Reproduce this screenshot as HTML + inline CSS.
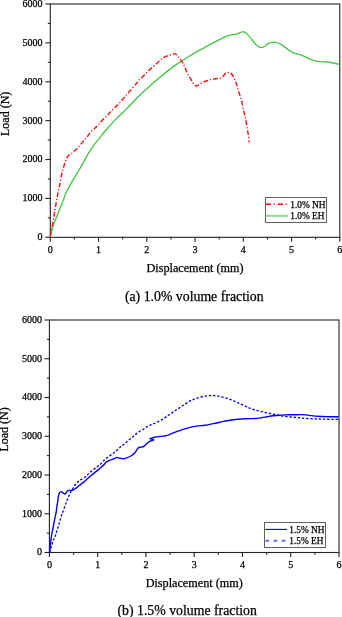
<!DOCTYPE html>
<html><head><meta charset="utf-8"><style>
html,body{margin:0;padding:0;background:#fff;}
body{width:342px;height:617px;overflow:hidden;position:relative;}
svg{position:absolute;left:0;top:0;font-family:"Liberation Serif",serif;will-change:transform;}
text{stroke:#000;stroke-width:0.25px;}
</style></head><body>
<svg width="342" height="617" viewBox="0 0 342 617" fill="#000">
<rect x="50.3" y="4.0" width="289.50" height="233.30" fill="none" stroke="#222" stroke-width="1.1"/>
<line x1="50.30" y1="237.3" x2="50.30" y2="241.70000000000002" stroke="#222" stroke-width="1.1"/>
<line x1="74.42" y1="237.3" x2="74.42" y2="239.60000000000002" stroke="#222" stroke-width="1.1"/>
<line x1="98.55" y1="237.3" x2="98.55" y2="241.70000000000002" stroke="#222" stroke-width="1.1"/>
<line x1="122.67" y1="237.3" x2="122.67" y2="239.60000000000002" stroke="#222" stroke-width="1.1"/>
<line x1="146.80" y1="237.3" x2="146.80" y2="241.70000000000002" stroke="#222" stroke-width="1.1"/>
<line x1="170.93" y1="237.3" x2="170.93" y2="239.60000000000002" stroke="#222" stroke-width="1.1"/>
<line x1="195.05" y1="237.3" x2="195.05" y2="241.70000000000002" stroke="#222" stroke-width="1.1"/>
<line x1="219.18" y1="237.3" x2="219.18" y2="239.60000000000002" stroke="#222" stroke-width="1.1"/>
<line x1="243.30" y1="237.3" x2="243.30" y2="241.70000000000002" stroke="#222" stroke-width="1.1"/>
<line x1="267.43" y1="237.3" x2="267.43" y2="239.60000000000002" stroke="#222" stroke-width="1.1"/>
<line x1="291.55" y1="237.3" x2="291.55" y2="241.70000000000002" stroke="#222" stroke-width="1.1"/>
<line x1="315.68" y1="237.3" x2="315.68" y2="239.60000000000002" stroke="#222" stroke-width="1.1"/>
<line x1="339.80" y1="237.3" x2="339.80" y2="241.70000000000002" stroke="#222" stroke-width="1.1"/>
<text x="50.30" y="253.0" font-size="10" text-anchor="middle">0</text>
<text x="98.55" y="253.0" font-size="10" text-anchor="middle">1</text>
<text x="146.80" y="253.0" font-size="10" text-anchor="middle">2</text>
<text x="195.05" y="253.0" font-size="10" text-anchor="middle">3</text>
<text x="243.30" y="253.0" font-size="10" text-anchor="middle">4</text>
<text x="291.55" y="253.0" font-size="10" text-anchor="middle">5</text>
<text x="339.80" y="253.0" font-size="10" text-anchor="middle">6</text>
<line x1="45.4" y1="237.30" x2="50.3" y2="237.30" stroke="#222" stroke-width="1.1"/>
<line x1="47.8" y1="217.86" x2="50.3" y2="217.86" stroke="#222" stroke-width="1.1"/>
<line x1="45.4" y1="198.42" x2="50.3" y2="198.42" stroke="#222" stroke-width="1.1"/>
<line x1="47.8" y1="178.97" x2="50.3" y2="178.97" stroke="#222" stroke-width="1.1"/>
<line x1="45.4" y1="159.53" x2="50.3" y2="159.53" stroke="#222" stroke-width="1.1"/>
<line x1="47.8" y1="140.09" x2="50.3" y2="140.09" stroke="#222" stroke-width="1.1"/>
<line x1="45.4" y1="120.65" x2="50.3" y2="120.65" stroke="#222" stroke-width="1.1"/>
<line x1="47.8" y1="101.21" x2="50.3" y2="101.21" stroke="#222" stroke-width="1.1"/>
<line x1="45.4" y1="81.77" x2="50.3" y2="81.77" stroke="#222" stroke-width="1.1"/>
<line x1="47.8" y1="62.32" x2="50.3" y2="62.32" stroke="#222" stroke-width="1.1"/>
<line x1="45.4" y1="42.88" x2="50.3" y2="42.88" stroke="#222" stroke-width="1.1"/>
<line x1="47.8" y1="23.44" x2="50.3" y2="23.44" stroke="#222" stroke-width="1.1"/>
<line x1="45.4" y1="4.00" x2="50.3" y2="4.00" stroke="#222" stroke-width="1.1"/>
<text x="42.4" y="240.20" font-size="10" text-anchor="end">0</text>
<text x="42.4" y="201.32" font-size="10" text-anchor="end">1000</text>
<text x="42.4" y="162.43" font-size="10" text-anchor="end">2000</text>
<text x="42.4" y="123.55" font-size="10" text-anchor="end">3000</text>
<text x="42.4" y="84.67" font-size="10" text-anchor="end">4000</text>
<text x="42.4" y="45.78" font-size="10" text-anchor="end">5000</text>
<text x="42.4" y="6.90" font-size="10" text-anchor="end">6000</text>
<text x="195.05" y="271.8" font-size="12.2" text-anchor="middle">Displacement (mm)</text>
<text transform="translate(9.1,113.85) rotate(-90)" x="0" y="0" font-size="12" text-anchor="middle">Load (N)</text>
<text x="194.25" y="301.2" font-size="13.8" text-anchor="middle">(a) 1.0% volume fraction</text>
<rect x="49.4" y="320.0" width="289.60" height="232.50" fill="none" stroke="#222" stroke-width="1.1"/>
<line x1="49.40" y1="552.5" x2="49.40" y2="556.9" stroke="#222" stroke-width="1.1"/>
<line x1="73.53" y1="552.5" x2="73.53" y2="554.8" stroke="#222" stroke-width="1.1"/>
<line x1="97.67" y1="552.5" x2="97.67" y2="556.9" stroke="#222" stroke-width="1.1"/>
<line x1="121.80" y1="552.5" x2="121.80" y2="554.8" stroke="#222" stroke-width="1.1"/>
<line x1="145.93" y1="552.5" x2="145.93" y2="556.9" stroke="#222" stroke-width="1.1"/>
<line x1="170.07" y1="552.5" x2="170.07" y2="554.8" stroke="#222" stroke-width="1.1"/>
<line x1="194.20" y1="552.5" x2="194.20" y2="556.9" stroke="#222" stroke-width="1.1"/>
<line x1="218.33" y1="552.5" x2="218.33" y2="554.8" stroke="#222" stroke-width="1.1"/>
<line x1="242.47" y1="552.5" x2="242.47" y2="556.9" stroke="#222" stroke-width="1.1"/>
<line x1="266.60" y1="552.5" x2="266.60" y2="554.8" stroke="#222" stroke-width="1.1"/>
<line x1="290.73" y1="552.5" x2="290.73" y2="556.9" stroke="#222" stroke-width="1.1"/>
<line x1="314.87" y1="552.5" x2="314.87" y2="554.8" stroke="#222" stroke-width="1.1"/>
<line x1="339.00" y1="552.5" x2="339.00" y2="556.9" stroke="#222" stroke-width="1.1"/>
<text x="49.40" y="568.1" font-size="10" text-anchor="middle">0</text>
<text x="97.67" y="568.1" font-size="10" text-anchor="middle">1</text>
<text x="145.93" y="568.1" font-size="10" text-anchor="middle">2</text>
<text x="194.20" y="568.1" font-size="10" text-anchor="middle">3</text>
<text x="242.47" y="568.1" font-size="10" text-anchor="middle">4</text>
<text x="290.73" y="568.1" font-size="10" text-anchor="middle">5</text>
<text x="339.00" y="568.1" font-size="10" text-anchor="middle">6</text>
<line x1="44.5" y1="552.50" x2="49.4" y2="552.50" stroke="#222" stroke-width="1.1"/>
<line x1="46.9" y1="533.12" x2="49.4" y2="533.12" stroke="#222" stroke-width="1.1"/>
<line x1="44.5" y1="513.75" x2="49.4" y2="513.75" stroke="#222" stroke-width="1.1"/>
<line x1="46.9" y1="494.38" x2="49.4" y2="494.38" stroke="#222" stroke-width="1.1"/>
<line x1="44.5" y1="475.00" x2="49.4" y2="475.00" stroke="#222" stroke-width="1.1"/>
<line x1="46.9" y1="455.62" x2="49.4" y2="455.62" stroke="#222" stroke-width="1.1"/>
<line x1="44.5" y1="436.25" x2="49.4" y2="436.25" stroke="#222" stroke-width="1.1"/>
<line x1="46.9" y1="416.88" x2="49.4" y2="416.88" stroke="#222" stroke-width="1.1"/>
<line x1="44.5" y1="397.50" x2="49.4" y2="397.50" stroke="#222" stroke-width="1.1"/>
<line x1="46.9" y1="378.12" x2="49.4" y2="378.12" stroke="#222" stroke-width="1.1"/>
<line x1="44.5" y1="358.75" x2="49.4" y2="358.75" stroke="#222" stroke-width="1.1"/>
<line x1="46.9" y1="339.38" x2="49.4" y2="339.38" stroke="#222" stroke-width="1.1"/>
<line x1="44.5" y1="320.00" x2="49.4" y2="320.00" stroke="#222" stroke-width="1.1"/>
<text x="42.0" y="555.40" font-size="10" text-anchor="end">0</text>
<text x="42.0" y="516.65" font-size="10" text-anchor="end">1000</text>
<text x="42.0" y="477.90" font-size="10" text-anchor="end">2000</text>
<text x="42.0" y="439.15" font-size="10" text-anchor="end">3000</text>
<text x="42.0" y="400.40" font-size="10" text-anchor="end">4000</text>
<text x="42.0" y="361.65" font-size="10" text-anchor="end">5000</text>
<text x="42.0" y="322.90" font-size="10" text-anchor="end">6000</text>
<text x="194.20" y="587.2" font-size="12.2" text-anchor="middle">Displacement (mm)</text>
<text transform="translate(8.3,429.45) rotate(-90)" x="0" y="0" font-size="12" text-anchor="middle">Load (N)</text>
<text x="187.20" y="615.4" font-size="13.8" text-anchor="middle">(b) 1.5% volume fraction</text>
<path d="M50.30,236.30 C50.60,235.18 51.52,231.68 52.10,229.60 C52.68,227.52 53.12,225.73 53.80,223.80 C54.48,221.87 55.42,219.95 56.20,218.00 C56.98,216.05 57.72,214.05 58.50,212.10 C59.28,210.15 60.12,208.22 60.90,206.30 C61.68,204.38 62.38,202.77 63.20,200.60 C64.02,198.43 64.97,195.30 65.80,193.30 C66.63,191.30 67.22,190.45 68.20,188.60 C69.18,186.75 70.53,184.25 71.70,182.20 C72.87,180.15 74.03,178.25 75.20,176.30 C76.37,174.35 77.53,172.45 78.70,170.50 C79.87,168.55 80.97,166.78 82.20,164.60 C83.43,162.42 84.87,159.60 86.10,157.40 C87.33,155.20 88.40,153.32 89.60,151.40 C90.80,149.48 91.73,148.03 93.30,145.90 C94.87,143.77 96.88,141.25 99.00,138.60 C101.12,135.95 103.58,132.83 106.00,130.00 C108.42,127.17 110.93,124.30 113.50,121.60 C116.07,118.90 119.23,115.92 121.40,113.80 C123.57,111.68 124.40,111.03 126.50,108.90 C128.60,106.77 131.52,103.57 134.00,101.00 C136.48,98.43 139.40,95.42 141.40,93.50 C143.40,91.58 143.95,91.32 146.00,89.50 C148.05,87.68 151.13,84.85 153.70,82.60 C156.27,80.35 158.68,78.25 161.40,76.00 C164.12,73.75 167.23,71.20 170.00,69.10 C172.77,67.00 175.33,65.20 178.00,63.40 C180.67,61.60 183.33,59.98 186.00,58.30 C188.67,56.62 191.00,55.05 194.00,53.30 C197.00,51.55 200.67,49.62 204.00,47.80 C207.33,45.98 211.40,43.77 214.00,42.40 C216.60,41.03 217.73,40.57 219.60,39.60 C221.47,38.63 223.33,37.38 225.20,36.60 C227.07,35.82 228.92,35.32 230.80,34.90 C232.68,34.48 235.08,34.42 236.50,34.10 C237.92,33.78 238.37,33.37 239.30,33.00 C240.23,32.63 241.25,32.07 242.10,31.90 C242.95,31.73 243.75,31.82 244.40,32.00 C245.05,32.18 245.33,32.43 246.00,33.00 C246.67,33.57 247.42,34.30 248.40,35.40 C249.38,36.50 250.73,38.13 251.90,39.60 C253.07,41.07 254.23,43.00 255.40,44.20 C256.57,45.40 257.82,46.25 258.90,46.80 C259.98,47.35 260.97,47.55 261.90,47.50 C262.83,47.45 263.53,47.10 264.50,46.50 C265.47,45.90 266.43,44.58 267.70,43.90 C268.97,43.22 270.78,42.67 272.10,42.40 C273.42,42.13 274.43,42.15 275.60,42.30 C276.77,42.45 277.93,42.78 279.10,43.30 C280.27,43.82 281.43,44.60 282.60,45.40 C283.77,46.20 284.87,47.20 286.10,48.10 C287.33,49.00 288.52,49.93 290.00,50.80 C291.48,51.67 293.33,52.65 295.00,53.30 C296.67,53.95 298.33,54.13 300.00,54.70 C301.67,55.27 303.33,55.95 305.00,56.70 C306.67,57.45 308.33,58.52 310.00,59.20 C311.67,59.88 313.33,60.38 315.00,60.80 C316.67,61.22 318.05,61.50 320.00,61.70 C321.95,61.90 324.48,61.78 326.70,62.00 C328.92,62.22 331.22,62.63 333.30,63.00 C335.38,63.37 338.22,64.00 339.20,64.20" fill="none" stroke="#45c845" stroke-width="1.35"/>
<path d="M50.30,236.50 C50.50,235.35 51.00,232.30 51.50,229.60 C52.00,226.90 52.82,223.02 53.30,220.30 C53.78,217.58 54.02,215.63 54.40,213.30 C54.78,210.97 55.20,208.65 55.60,206.30 C56.00,203.95 56.42,201.35 56.80,199.20 C57.18,197.05 57.52,195.35 57.90,193.40 C58.28,191.45 58.75,189.15 59.10,187.50 C59.45,185.85 59.55,185.85 60.00,183.50 C60.45,181.15 61.22,176.07 61.80,173.40 C62.38,170.73 62.92,169.45 63.50,167.50 C64.08,165.55 64.72,163.35 65.30,161.70 C65.88,160.05 66.32,158.77 67.00,157.60 C67.68,156.43 68.62,155.38 69.40,154.70 C70.18,154.02 70.93,154.08 71.70,153.50 C72.47,152.92 73.08,152.03 74.00,151.20 C74.92,150.37 76.18,149.55 77.20,148.50 C78.22,147.45 79.02,146.18 80.10,144.90 C81.18,143.62 82.55,142.12 83.70,140.80 C84.85,139.48 85.87,138.42 87.00,137.00 C88.13,135.58 89.17,133.80 90.50,132.30 C91.83,130.80 93.67,129.30 95.00,128.00 C96.33,126.70 97.33,125.77 98.50,124.50 C99.67,123.23 100.63,121.77 102.00,120.40 C103.37,119.03 105.33,117.67 106.70,116.30 C108.07,114.93 108.93,113.57 110.20,112.20 C111.47,110.83 112.93,109.47 114.30,108.10 C115.67,106.73 116.93,105.55 118.40,104.00 C119.87,102.45 121.63,100.45 123.10,98.80 C124.57,97.15 125.93,95.57 127.20,94.10 C128.47,92.63 129.20,91.73 130.70,90.00 C132.20,88.27 134.70,85.43 136.20,83.70 C137.70,81.97 138.33,81.07 139.70,79.60 C141.07,78.13 142.85,76.47 144.40,74.90 C145.95,73.33 147.45,71.67 149.00,70.20 C150.55,68.73 152.13,67.47 153.70,66.10 C155.27,64.73 156.83,63.37 158.40,62.00 C159.97,60.63 161.73,58.87 163.10,57.90 C164.47,56.93 165.43,56.68 166.60,56.20 C167.77,55.72 168.80,55.43 170.10,55.00 C171.40,54.57 173.40,53.72 174.40,53.60 C175.40,53.48 175.55,53.87 176.10,54.30 C176.65,54.73 177.17,55.57 177.70,56.20 C178.23,56.83 178.63,57.28 179.30,58.10 C179.97,58.92 180.98,60.05 181.70,61.10 C182.42,62.15 183.05,63.32 183.60,64.40 C184.15,65.48 184.43,66.25 185.00,67.60 C185.57,68.95 186.33,71.05 187.00,72.50 C187.67,73.95 188.42,75.28 189.00,76.30 C189.58,77.32 189.95,77.68 190.50,78.60 C191.05,79.52 191.75,80.90 192.30,81.80 C192.85,82.70 193.20,83.30 193.80,84.00 C194.40,84.70 195.12,85.83 195.90,86.00 C196.68,86.17 197.40,85.58 198.50,85.00 C199.60,84.42 201.12,83.20 202.50,82.50 C203.88,81.80 205.33,81.32 206.80,80.80 C208.27,80.28 209.83,79.73 211.30,79.40 C212.77,79.07 214.13,79.00 215.60,78.80 C217.07,78.60 218.98,78.50 220.10,78.20 C221.22,77.90 221.72,77.45 222.30,77.00 C222.88,76.55 223.10,76.08 223.60,75.50 C224.10,74.92 224.72,74.02 225.30,73.50 C225.88,72.98 226.42,72.52 227.10,72.40 C227.78,72.28 228.67,72.57 229.40,72.80 C230.13,73.03 230.77,73.02 231.50,73.80 C232.23,74.58 233.07,76.05 233.80,77.50 C234.53,78.95 235.32,80.95 235.90,82.50 C236.48,84.05 236.87,85.33 237.30,86.80 C237.73,88.27 237.97,89.63 238.50,91.30 C239.03,92.97 239.93,94.95 240.50,96.80 C241.07,98.65 241.42,100.25 241.90,102.40 C242.38,104.55 242.90,107.50 243.40,109.70 C243.90,111.90 244.42,113.40 244.90,115.60 C245.38,117.80 245.87,120.47 246.30,122.90 C246.73,125.33 247.13,128.02 247.50,130.20 C247.87,132.38 248.22,133.95 248.50,136.00 C248.78,138.05 249.08,141.42 249.20,142.50" fill="none" stroke="#ff0d0d" stroke-width="1.4" stroke-dasharray="4.8 2 1.2 2"/>
<path d="M49.60,552.50 C49.82,551.75 50.50,549.37 50.90,548.00 C51.30,546.63 51.63,545.52 52.00,544.30 C52.37,543.08 52.62,541.88 53.10,540.70 C53.58,539.52 54.42,538.42 54.90,537.20 C55.38,535.98 55.57,534.77 56.00,533.40 C56.43,532.03 57.02,530.50 57.50,529.00 C57.98,527.50 58.48,525.83 58.90,524.40 C59.32,522.97 59.58,521.83 60.00,520.40 C60.42,518.97 60.90,517.28 61.40,515.80 C61.90,514.32 62.38,513.20 63.00,511.50 C63.62,509.80 64.52,507.17 65.10,505.60 C65.68,504.03 66.02,503.37 66.50,502.10 C66.98,500.83 67.47,499.32 68.00,498.00 C68.53,496.68 69.12,495.47 69.70,494.20 C70.28,492.93 70.87,491.52 71.50,490.40 C72.13,489.28 72.92,488.40 73.50,487.50 C74.08,486.60 74.33,485.87 75.00,485.00 C75.67,484.13 76.75,483.03 77.50,482.30 C78.25,481.57 78.78,481.13 79.50,480.60 C80.22,480.07 80.92,479.67 81.80,479.10 C82.68,478.53 83.92,477.85 84.80,477.20 C85.68,476.55 86.37,475.88 87.10,475.20 C87.83,474.52 88.32,473.90 89.20,473.10 C90.08,472.30 91.38,471.23 92.40,470.40 C93.42,469.57 94.28,468.88 95.30,468.10 C96.32,467.32 97.62,466.38 98.50,465.70 C99.38,465.02 99.92,464.68 100.60,464.00 C101.28,463.32 101.82,462.38 102.60,461.60 C103.38,460.82 104.52,459.97 105.30,459.30 C106.08,458.63 106.52,458.22 107.30,457.60 C108.08,456.98 109.13,456.23 110.00,455.60 C110.87,454.97 111.75,454.37 112.50,453.80 C113.25,453.23 113.82,452.77 114.50,452.20 C115.18,451.63 115.72,451.17 116.60,450.40 C117.48,449.63 118.72,448.50 119.80,447.60 C120.88,446.70 122.07,445.87 123.10,445.00 C124.13,444.13 125.03,443.23 126.00,442.40 C126.97,441.57 127.90,440.85 128.90,440.00 C129.90,439.15 131.07,438.10 132.00,437.30 C132.93,436.50 133.35,436.10 134.50,435.20 C135.65,434.30 137.35,432.93 138.90,431.90 C140.45,430.87 142.37,429.92 143.80,429.00 C145.23,428.08 146.27,427.12 147.50,426.40 C148.73,425.68 149.90,425.27 151.20,424.70 C152.50,424.13 153.93,423.62 155.30,423.00 C156.67,422.38 158.03,421.70 159.40,421.00 C160.77,420.30 162.15,419.67 163.50,418.80 C164.85,417.93 166.15,416.75 167.50,415.80 C168.85,414.85 170.23,414.02 171.60,413.10 C172.97,412.18 174.33,411.22 175.70,410.30 C177.07,409.38 178.43,408.50 179.80,407.60 C181.17,406.70 182.43,405.87 183.90,404.90 C185.37,403.93 187.17,402.65 188.60,401.80 C190.03,400.95 191.25,400.35 192.50,399.80 C193.75,399.25 194.63,399.00 196.10,398.50 C197.57,398.00 199.55,397.23 201.30,396.80 C203.05,396.37 204.85,396.12 206.60,395.90 C208.35,395.68 210.05,395.50 211.80,395.50 C213.55,395.50 215.33,395.63 217.10,395.90 C218.87,396.17 220.65,396.67 222.40,397.10 C224.15,397.53 225.85,397.95 227.60,398.50 C229.35,399.05 231.30,399.77 232.90,400.40 C234.50,401.03 235.77,401.63 237.20,402.30 C238.63,402.97 240.05,403.72 241.50,404.40 C242.95,405.08 244.43,405.75 245.90,406.40 C247.37,407.05 248.65,407.68 250.30,408.30 C251.95,408.92 253.90,409.55 255.80,410.10 C257.70,410.65 259.75,411.12 261.70,411.60 C263.65,412.08 265.55,412.57 267.50,413.00 C269.45,413.43 271.45,413.78 273.40,414.20 C275.35,414.62 277.25,415.13 279.20,415.50 C281.15,415.87 283.15,416.15 285.10,416.40 C287.05,416.65 288.95,416.82 290.90,417.00 C292.85,417.18 295.20,417.33 296.80,417.50 C298.40,417.67 298.97,417.83 300.50,418.00 C302.03,418.17 304.17,418.38 306.00,418.50 C307.83,418.62 309.67,418.62 311.50,418.70 C313.33,418.78 315.17,418.93 317.00,419.00 C318.83,419.07 320.67,419.05 322.50,419.10 C324.33,419.15 326.17,419.27 328.00,419.30 C329.83,419.33 331.72,419.30 333.50,419.30 C335.28,419.30 337.83,419.30 338.70,419.30" fill="none" stroke="#0000ff" stroke-width="1.35" stroke-dasharray="2.4 1.8"/>
<path d="M49.50,552.30 C49.68,550.72 50.30,545.35 50.60,542.80 C50.90,540.25 51.00,538.93 51.30,537.00 C51.60,535.07 52.03,533.15 52.40,531.20 C52.77,529.25 53.13,527.25 53.50,525.30 C53.87,523.35 54.23,521.32 54.60,519.50 C54.97,517.68 55.42,515.73 55.70,514.40 C55.98,513.07 56.10,512.82 56.30,511.50 C56.50,510.18 56.65,508.25 56.90,506.50 C57.15,504.75 57.57,502.67 57.80,501.00 C58.03,499.33 58.02,497.87 58.30,496.50 C58.58,495.13 59.00,493.62 59.50,492.80 C60.00,491.98 60.72,491.60 61.30,491.60 C61.88,491.60 62.42,492.40 63.00,492.80 C63.58,493.20 64.27,494.00 64.80,494.00 C65.33,494.00 65.82,493.27 66.20,492.80 C66.58,492.33 66.65,491.60 67.10,491.20 C67.55,490.80 68.22,490.53 68.90,490.40 C69.58,490.27 70.43,490.50 71.20,490.40 C71.97,490.30 72.82,490.12 73.50,489.80 C74.18,489.48 74.75,488.87 75.30,488.50 C75.85,488.13 76.20,488.05 76.80,487.60 C77.40,487.15 78.07,486.48 78.90,485.80 C79.73,485.12 80.82,484.27 81.80,483.50 C82.78,482.73 83.77,482.08 84.80,481.20 C85.83,480.32 86.88,479.20 88.00,478.20 C89.12,477.20 90.33,476.17 91.50,475.20 C92.67,474.23 93.83,473.33 95.00,472.40 C96.17,471.47 97.33,470.57 98.50,469.60 C99.67,468.63 101.02,467.48 102.00,466.60 C102.98,465.72 103.82,464.97 104.40,464.30 C104.98,463.63 105.02,463.08 105.50,462.60 C105.98,462.12 106.63,461.78 107.30,461.40 C107.97,461.02 108.80,460.58 109.50,460.30 C110.20,460.02 110.88,459.88 111.50,459.70 C112.12,459.52 112.38,459.55 113.20,459.20 C114.02,458.85 115.33,457.78 116.40,457.60 C117.47,457.42 118.52,457.92 119.60,458.10 C120.68,458.28 121.82,458.70 122.90,458.70 C123.98,458.70 124.77,458.55 126.10,458.10 C127.43,457.65 129.43,456.88 130.90,456.00 C132.37,455.12 133.70,454.13 134.90,452.80 C136.10,451.47 137.02,448.93 138.10,448.00 C139.18,447.07 140.45,447.47 141.40,447.20 C142.35,446.93 142.65,447.22 143.80,446.40 C144.95,445.58 147.10,443.23 148.30,442.30 C149.50,441.37 150.07,441.22 151.00,440.80 C151.93,440.38 153.42,439.97 153.90,439.80 L149.8,438.6 C150.57,438.38 152.60,437.67 154.40,437.30 C156.20,436.93 158.72,436.67 160.60,436.40 C162.48,436.13 164.33,435.95 165.70,435.70 C167.07,435.45 167.32,435.45 168.80,434.90 C170.28,434.35 172.65,433.17 174.60,432.40 C176.55,431.63 178.55,430.97 180.50,430.30 C182.45,429.63 184.35,428.97 186.30,428.40 C188.25,427.83 190.25,427.32 192.20,426.90 C194.15,426.48 195.87,426.17 198.00,425.90 C200.13,425.63 202.87,425.60 205.00,425.30 C207.13,425.00 208.85,424.48 210.80,424.10 C212.75,423.72 214.75,423.42 216.70,423.00 C218.65,422.58 220.55,422.02 222.50,421.60 C224.45,421.18 226.45,420.82 228.40,420.50 C230.35,420.18 232.25,419.95 234.20,419.70 C236.15,419.45 238.15,419.17 240.10,419.00 C242.05,418.83 244.25,418.77 245.90,418.70 C247.55,418.63 248.35,418.63 250.00,418.60 C251.65,418.57 253.85,418.65 255.80,418.50 C257.75,418.35 259.75,418.00 261.70,417.70 C263.65,417.40 265.55,417.02 267.50,416.70 C269.45,416.38 271.45,416.05 273.40,415.80 C275.35,415.55 277.25,415.35 279.20,415.20 C281.15,415.05 283.15,414.97 285.10,414.90 C287.05,414.83 289.25,414.82 290.90,414.80 C292.55,414.78 293.40,414.83 295.00,414.80 C296.60,414.77 298.67,414.58 300.50,414.60 C302.33,414.62 304.17,414.73 306.00,414.90 C307.83,415.07 309.67,415.37 311.50,415.60 C313.33,415.83 315.17,416.15 317.00,416.30 C318.83,416.45 320.67,416.43 322.50,416.50 C324.33,416.57 326.17,416.65 328.00,416.70 C329.83,416.75 331.72,416.78 333.50,416.80 C335.28,416.82 337.83,416.80 338.70,416.80" fill="none" stroke="#0000ff" stroke-width="1.4" stroke-linejoin="round"/>
<rect x="265.5" y="197.5" width="61" height="25" fill="#fff" stroke="#606060" stroke-width="1"/>
<line x1="265.8" y1="204.3" x2="287" y2="204.3" stroke="#ff0d0d" stroke-width="1.6" stroke-dasharray="5.4 2.6 1.2 2.6"/>
<line x1="265.8" y1="215.8" x2="288" y2="215.8" stroke="#8fdc8f" stroke-width="2"/>
<text x="290.3" y="207.8" font-size="9.3">1.0% NH</text>
<text x="290.3" y="219.3" font-size="9.3">1.0% EH</text>
<rect x="264.5" y="522.5" width="61" height="25" fill="#fff" stroke="#606060" stroke-width="1"/>
<line x1="265.3" y1="529.4" x2="287" y2="529.4" stroke="#0000ff" stroke-width="1.1"/>
<line x1="265.3" y1="540.7" x2="287" y2="540.7" stroke="#6a6aff" stroke-width="1.9" stroke-dasharray="3.8 4.4"/>
<text x="289.3" y="533" font-size="9.3">1.5% NH</text>
<text x="289.3" y="544.3" font-size="9.3">1.5% EH</text>
</svg>
</body></html>
